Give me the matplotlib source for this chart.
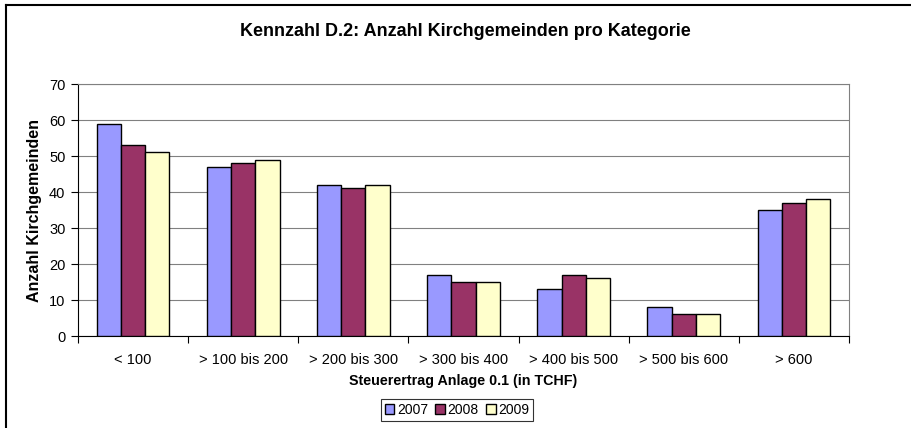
import numpy as np
import matplotlib.pyplot as plt
from matplotlib.lines import Line2D
from matplotlib.ticker import FixedLocator

plt.rcParams['font.family'] = ['Liberation Sans', 'DejaVu Sans']

# ---------------- DATA ---------------- #
categories = ["< 100", "> 100 bis 200", "> 200 bis 300", "> 300 bis 400",
              "> 400 bis 500", "> 500 bis 600", "> 600"]
years = ["2007", "2008", "2009"]
v2007 = [59, 47, 42, 17, 13, 8, 35]
v2008 = [53, 48, 41, 15, 17, 6, 37]
v2009 = [51, 49, 42, 15, 16, 6, 38]
colors = ["#9999FF", "#993366", "#FFFFCC"]

# ---------------- FIGURE ---------------- #
fig = plt.figure(figsize=(9.12, 4.28), dpi=100)
ax = fig.add_axes([78 / 912, 92 / 428, (849 - 78) / 912, (336 - 84) / 428])

x = np.arange(len(categories))
w = 0.22
for i, (vals, c, lab) in enumerate(zip([v2007, v2008, v2009], colors, years)):
    ax.bar(x + (i - 1) * w, vals, width=w, color=c, edgecolor="black",
           linewidth=1.0, label=lab, zorder=3)

ax.set_xlim(-0.5, len(categories) - 0.5)
ax.set_ylim(0, 70)
ax.set_yticks(range(0, 71, 10))
ax.yaxis.grid(True, color="#808080", linewidth=0.8, zorder=0)

ax.set_xticks(x)
ax.set_xticklabels(categories, fontsize=10.5)
ax.xaxis.set_minor_locator(FixedLocator(np.arange(-0.5, len(categories), 1)))
ax.tick_params(axis="x", which="major", length=0, pad=12)
ax.tick_params(axis="x", which="minor", length=5, direction="out", width=0.8)
ax.tick_params(axis="y", length=5, direction="out", width=0.8, labelsize=10.5, pad=4)

for side in ["top", "right"]:
    ax.spines[side].set_color("#808080")
for side in ["left", "bottom"]:
    ax.spines[side].set_color("black")

ax.set_xlabel("Steuerertrag Anlage 0.1 (in TCHF)", fontsize=10.3, fontweight="bold",
              labelpad=5)
ax.set_ylabel("Anzahl Kirchgemeinden", fontsize=11.5, fontweight="bold", labelpad=5)

fig.text(465 / 912, 1 - 32 / 428, "Kennzahl D.2: Anzahl Kirchgemeinden pro Kategorie",
         ha="center", va="center", fontsize=13, fontweight="bold")

leg = fig.legend(loc="center", bbox_to_anchor=(457 / 912, 1 - 410 / 428), ncol=3,
                 fontsize=10, frameon=True, fancybox=False, handlelength=0.7,
                 handleheight=0.7, handletextpad=0.2, columnspacing=0.5,
                 borderpad=0.3, borderaxespad=0)
leg.get_frame().set_edgecolor("black")
leg.get_frame().set_linewidth(0.8)

# outer chart border (left and top)
fig.add_artist(Line2D([6.5 / 912, 6.5 / 912], [0, 1 - 5 / 428], color="black",
                      linewidth=1.5, transform=fig.transFigure))
fig.add_artist(Line2D([6.5 / 912, 1], [1 - 5 / 428, 1 - 5 / 428], color="black",
                      linewidth=1.5, transform=fig.transFigure))

plt.savefig("out.png", dpi=100)
